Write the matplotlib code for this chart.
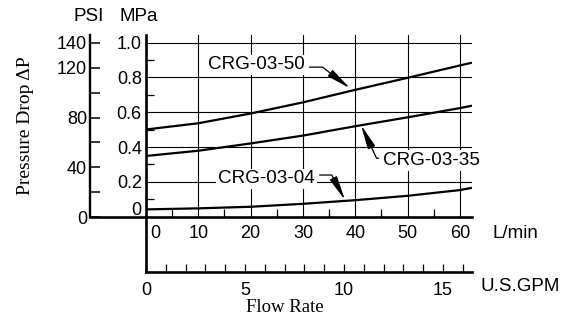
import matplotlib.pyplot as plt
from matplotlib.transforms import ScaledTranslation

plt.rcParams['font.family'] = 'Liberation Sans'

# Dados (vazao em L/min, queda de pressao em MPa)
vazao = [0, 10, 20, 30, 40, 50, 60, 62.3]
queda_50 = [0.501, 0.537, 0.593, 0.657, 0.729, 0.798, 0.869, 0.885]
queda_35 = [0.349, 0.379, 0.421, 0.466, 0.52, 0.571, 0.624, 0.638]
queda_04 = [0.042, 0.048, 0.057, 0.074, 0.095, 0.12, 0.153, 0.166]

# Escalas dos eixos
lpm_ticks = [0, 10, 20, 30, 40, 50, 60]
lpm_minor = [5, 15, 25, 35, 45, 55]
mpa_ticks = [0, 0.2, 0.4, 0.6, 0.8, 1.0]
mpa_labels = ['0', '0.2', '0.4', '0.6', '0.8', '1.0']
mpa_minor = [0.1, 0.3, 0.5, 0.7, 0.9]
psi_ticks = [0, 20, 40, 60, 80, 100, 120, 140]
psi_labels = ['0', '', '40', '', '80', '', '120', '140']
gpm_ticks = [0, 5, 10, 15]
gpm_minor = [1, 2, 3, 4, 6, 7, 8, 9, 11, 12, 13, 14, 16]
LPM_POR_GPM = 3.785

# Rotulos das curvas: (texto, posicao do texto, ponta da seta, relpos, angulo)
rotulos = [
    ('CRG-03-50', (11.86, 0.872), (38.98, 0.738), (1, 0.37), -37.6),
    ('CRG-03-35', (45.35, 0.321), (41.09, 0.527), (0, 0.65), 115),
    ('CRG-03-04', (13.82, 0.217), (38.03, 0.096), (1, 0.73), -62),
]

fig = plt.figure(figsize=(5.68, 3.2), dpi=100)
W, H = 568, 320

def caixa(x0, y0, x1, y1):
    return [x0 / W, 1 - y1 / H, (x1 - x0) / W, (y1 - y0) / H]

# Eixo principal (MPa x L/min)
ax = fig.add_axes(caixa(146, 35, 472, 216.7))
ax.set_facecolor('none')
for q in [queda_50, queda_35, queda_04]:
    ax.plot(vazao, q, color='k', lw=1.6, solid_capstyle='butt', solid_joinstyle='round')
ax.set_xlim(0, 62.3)
ax.set_ylim(0, 1.044)
for s in ['top', 'right']:
    ax.spines[s].set_visible(False)
ax.spines['left'].set_linewidth(1.9)
ax.spines['bottom'].set_linewidth(1.9)
ax.set_xticks(lpm_ticks, [str(t) for t in lpm_ticks])
ax.set_xticks(lpm_minor, minor=True)
ax.set_yticks(mpa_ticks, mpa_labels)
ax.set_yticks(mpa_minor, minor=True)
ax.tick_params(which='major', length=0, labelsize=13, pad=6)
ax.tick_params(axis='y', which='major', pad=3)
ax.tick_params(which='minor', direction='in', length=6, width=0.9)
ax.grid(True, which='major', color='k', lw=0.8)
ax.set_axisbelow(True)

# desloca os rotulos "0"
lab = ax.xaxis.get_major_ticks()[0].label1
lab.set_transform(lab.get_transform() + ScaledTranslation(0.09, 0, fig.dpi_scale_trans))
lab = ax.yaxis.get_major_ticks()[0].label1
lab.set_transform(lab.get_transform() + ScaledTranslation(0, 0.085, fig.dpi_scale_trans))

for texto, pos, ponta, rel, ang in rotulos:
    ax.annotate(texto, xy=ponta, xytext=pos, ha='left', va='center', fontsize=13.6,
                bbox=dict(boxstyle='square,pad=0.1', fc='white', ec='none'),
                arrowprops=dict(arrowstyle='-|>,head_length=1.35,head_width=0.22',
                                mutation_scale=11, color='k', lw=0.9,
                                relpos=rel, shrinkA=2, shrinkB=0,
                                connectionstyle=f'angle,angleA=0,angleB={ang},rad=0'))

ax.text(1.064, -0.09, 'L/min', transform=ax.transAxes, fontsize=13.5, va='center', ha='left')

# Eixo PSI
ax_psi = fig.add_axes(caixa(90, 35, 146, 217))
ax_psi.set_facecolor('none')
ax_psi.set_ylim(0, 146.4)
ax_psi.set_xlim(0, 1)
for s in ['top', 'right']:
    ax_psi.spines[s].set_visible(False)
ax_psi.spines['left'].set_linewidth(1.7)
ax_psi.spines['bottom'].set_linewidth(1.9)
ax_psi.set_xticks([])
ax_psi.set_yticks(psi_ticks, psi_labels)
ax_psi.tick_params(axis='y', direction='in', length=7, width=1.1, labelsize=13, pad=2)
ax_psi.text(-0.03, 1.1, 'PSI', transform=ax_psi.transAxes, ha='center', va='center', fontsize=13.5)
ax_psi.text(0.87, 1.1, 'MPa', transform=ax_psi.transAxes, ha='center', va='center', fontsize=13.5)
ax_psi.text(-1.16, 0.5, 'Pressure Drop \u0394P', transform=ax_psi.transAxes, rotation=90,
            ha='center', va='center', fontsize=14, family='Liberation Serif')

# Eixo GPM
ax_gpm = fig.add_axes(caixa(146, 217, 472, 272))
ax_gpm.set_facecolor('none')
ax_gpm.set_xlim(0, 62.3 / LPM_POR_GPM)
ax_gpm.set_ylim(0, 1)
for s in ['top', 'right']:
    ax_gpm.spines[s].set_visible(False)
ax_gpm.spines['left'].set_linewidth(1.9)
ax_gpm.spines['bottom'].set_linewidth(1.9)
ax_gpm.set_yticks([])
ax_gpm.set_xticks(gpm_ticks, [str(t) for t in gpm_ticks])
ax_gpm.set_xticks(gpm_minor, minor=True)
ax_gpm.tick_params(axis='x', which='both', direction='in', length=6, width=0.9,
                   labelsize=13, pad=7)
ax_gpm.text(1.025, -0.27, 'U.S.GPM', transform=ax_gpm.transAxes, fontsize=13.5,
            va='center', ha='left')
ax_gpm.text(0.425, -0.64, 'Flow Rate', transform=ax_gpm.transAxes, fontsize=13.5,
            va='center', ha='center', family='Liberation Serif')

fig.savefig('out.png', dpi=100)
